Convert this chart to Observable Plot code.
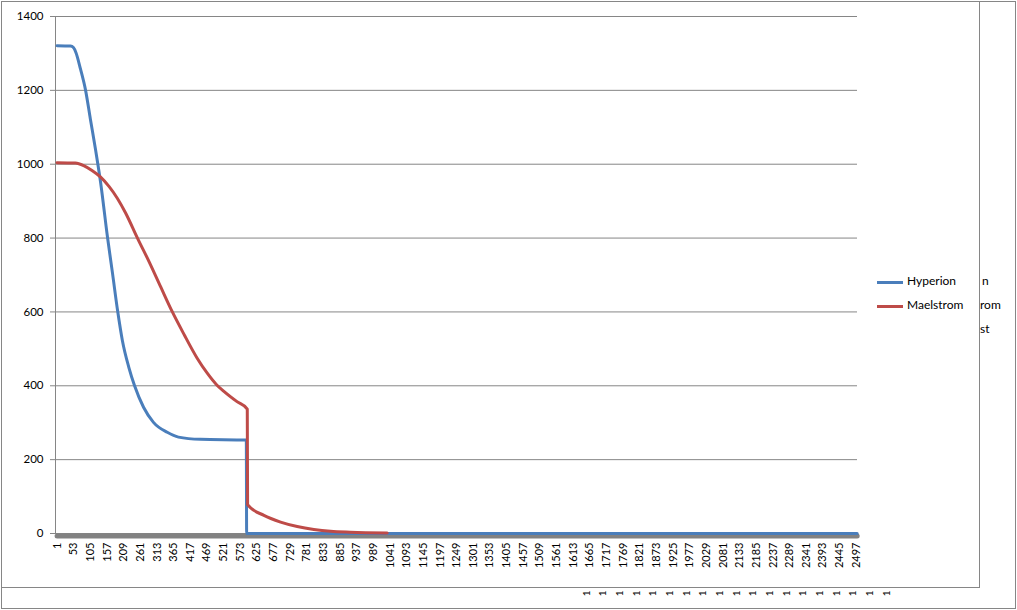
<!DOCTYPE html>
<html>
<head>
<meta charset="utf-8">
<script src="https://cdn.jsdelivr.net/npm/d3@7"></script>
<script src="https://cdn.jsdelivr.net/npm/@observablehq/plot@0.6"></script>
<style>
  html, body { margin: 0; padding: 0; background: #fff; }
  #wrap { position: relative; width: 1017px; height: 610px; overflow: hidden; font-family: Lato, sans-serif; }
  #wrap svg { position: absolute; left: 0; top: 0; }
  .ln { position: absolute; background: #868686; }
  .leg { position: absolute; font-size: 12px; color: #000; line-height: 14px; white-space: nowrap; }
  .sw { position: absolute; height: 3px; width: 26px; }
</style>
</head>
<body>
<div id="wrap"></div>
<script>
// ---- data ----
const xTicks = [1,53,105,157,209,261,313,365,417,469,521,573,625,677,729,781,833,885,937,989,1041,1093,1145,1197,1249,1301,1353,1405,1457,1509,1561,1613,1665,1717,1769,1821,1873,1925,1977,2029,2081,2133,2185,2237,2289,2341,2393,2445,2497];
const yTicks = [0,200,400,600,800,1000,1200,1400];
const xDomain = [-4, 2501];

const hyperionIdx = [1,43,52,60,74,90,105,121,137,158,174,190,205,225,243,271,302,345,380,449,592,593,2500];
const hyperionVal = [1321,1320,1316,1302,1258,1200,1122,1040,950,805,705,603,522,450,400,342,301,274,261,255,253,0,0];

const maelstromIdx = [1,58,84,110,137,163,189,215,252,290,325,361,397,439,470,499,522,563,595,596,647,699,751,803,855,917,1032];
const maelstromVal = [1004,1003,996,983,965,940,908,868,800,733,667,600,540,474,434,403,385,357,337,78,49,31,19,11,6,3.5,1.5];

const baseIdx = [1,2500];
const baseVal = [0,0];

const ghostCats = [1665,1717,1769,1821,1873,1925,1977,2029,2081,2133,2185,2237,2289,2341,2393,2445,2497,2549,2601];

const legendNames = ["Hyperion","Maelstrom"];
const legendColors = ["#4A7EBB","#BE4B48"];
const clippedLegend = ["n","rom","st"];

// ---- build ----
const hyperion = hyperionIdx.map((x,i)=>({x, y: hyperionVal[i]}));
const maelstrom = maelstromIdx.map((x,i)=>({x, y: maelstromVal[i]}));
const base = baseIdx.map((x,i)=>({x, y: baseVal[i]}));

const chart = Plot.plot({
  width: 1017, height: 610,
  marginLeft: 55, marginRight: 160, marginTop: 16, marginBottom: 77,
  style: {fontFamily: "Lato, sans-serif", fontSize: "11px", color: "#000", background: "transparent"},
  x: {type: "linear", domain: xDomain},
  y: {domain: [0,1400]},
  marks: [
    Plot.gridY(yTicks, {stroke: "#868686", strokeOpacity: 1}),
    Plot.ruleX([xDomain[0]], {stroke: "#868686"}),
    Plot.axisY(yTicks, {tickSize: 5, tickPadding: 7, stroke: "#868686", label: null, fontSize: 11.5, fill: "#000", tickFormat: d => String(d)}),
    Plot.axisX(xTicks, {tickSize: 0, tickPadding: 9, tickRotate: -90, textAnchor: "end", label: null, fontSize: 11, fill: "#000", tickFormat: d => String(d)}),
    Plot.text(ghostCats, {x: d => d, frameAnchor: "bottom", dy: 57, rotate: -90, textAnchor: "end", text: () => "1", fontSize: 10, fill: "#000"}),
    Plot.line(base, {x: "x", y: "y", stroke: "#828282", strokeWidth: 5, dy: 2.5}),
    Plot.line(hyperion, {x: "x", y: "y", stroke: legendColors[0], strokeWidth: 3, curve: "monotone-x"}),
    Plot.line(maelstrom, {x: "x", y: "y", stroke: legendColors[1], strokeWidth: 3, curve: "monotone-x"})
  ]
});

const wrap = document.getElementById("wrap");
wrap.appendChild(chart);

function line(l,t,w,h){ const d=document.createElement("div"); d.className="ln"; Object.assign(d.style,{left:l+"px",top:t+"px",width:w+"px",height:h+"px"}); wrap.appendChild(d); }
// frame lines
line(1,1,1015,1);
line(1,1,1,608);
line(979,1,1,587);
line(1,587,979,1);
line(1,608,1015,1);
line(1015,1,1,608);

// legend
legendNames.forEach((n,i)=>{
  const y = 282 + i*24;
  const s = document.createElement("div"); s.className="sw";
  Object.assign(s.style,{left:"877px", top:(y-1.5)+"px", background: legendColors[i]});
  wrap.appendChild(s);
  const t = document.createElement("div"); t.className="leg"; t.textContent=n;
  Object.assign(t.style,{left:"907px", top:(y-8)+"px"});
  wrap.appendChild(t);
});
clippedLegend.forEach((n,i)=>{
  const t = document.createElement("div"); t.className="leg"; t.textContent=n;
  Object.assign(t.style,{left:(i===0?"982px":"980px"), top:(282 + i*24 - 8)+"px"});
  wrap.appendChild(t);
});
</script>
</body>
</html>
